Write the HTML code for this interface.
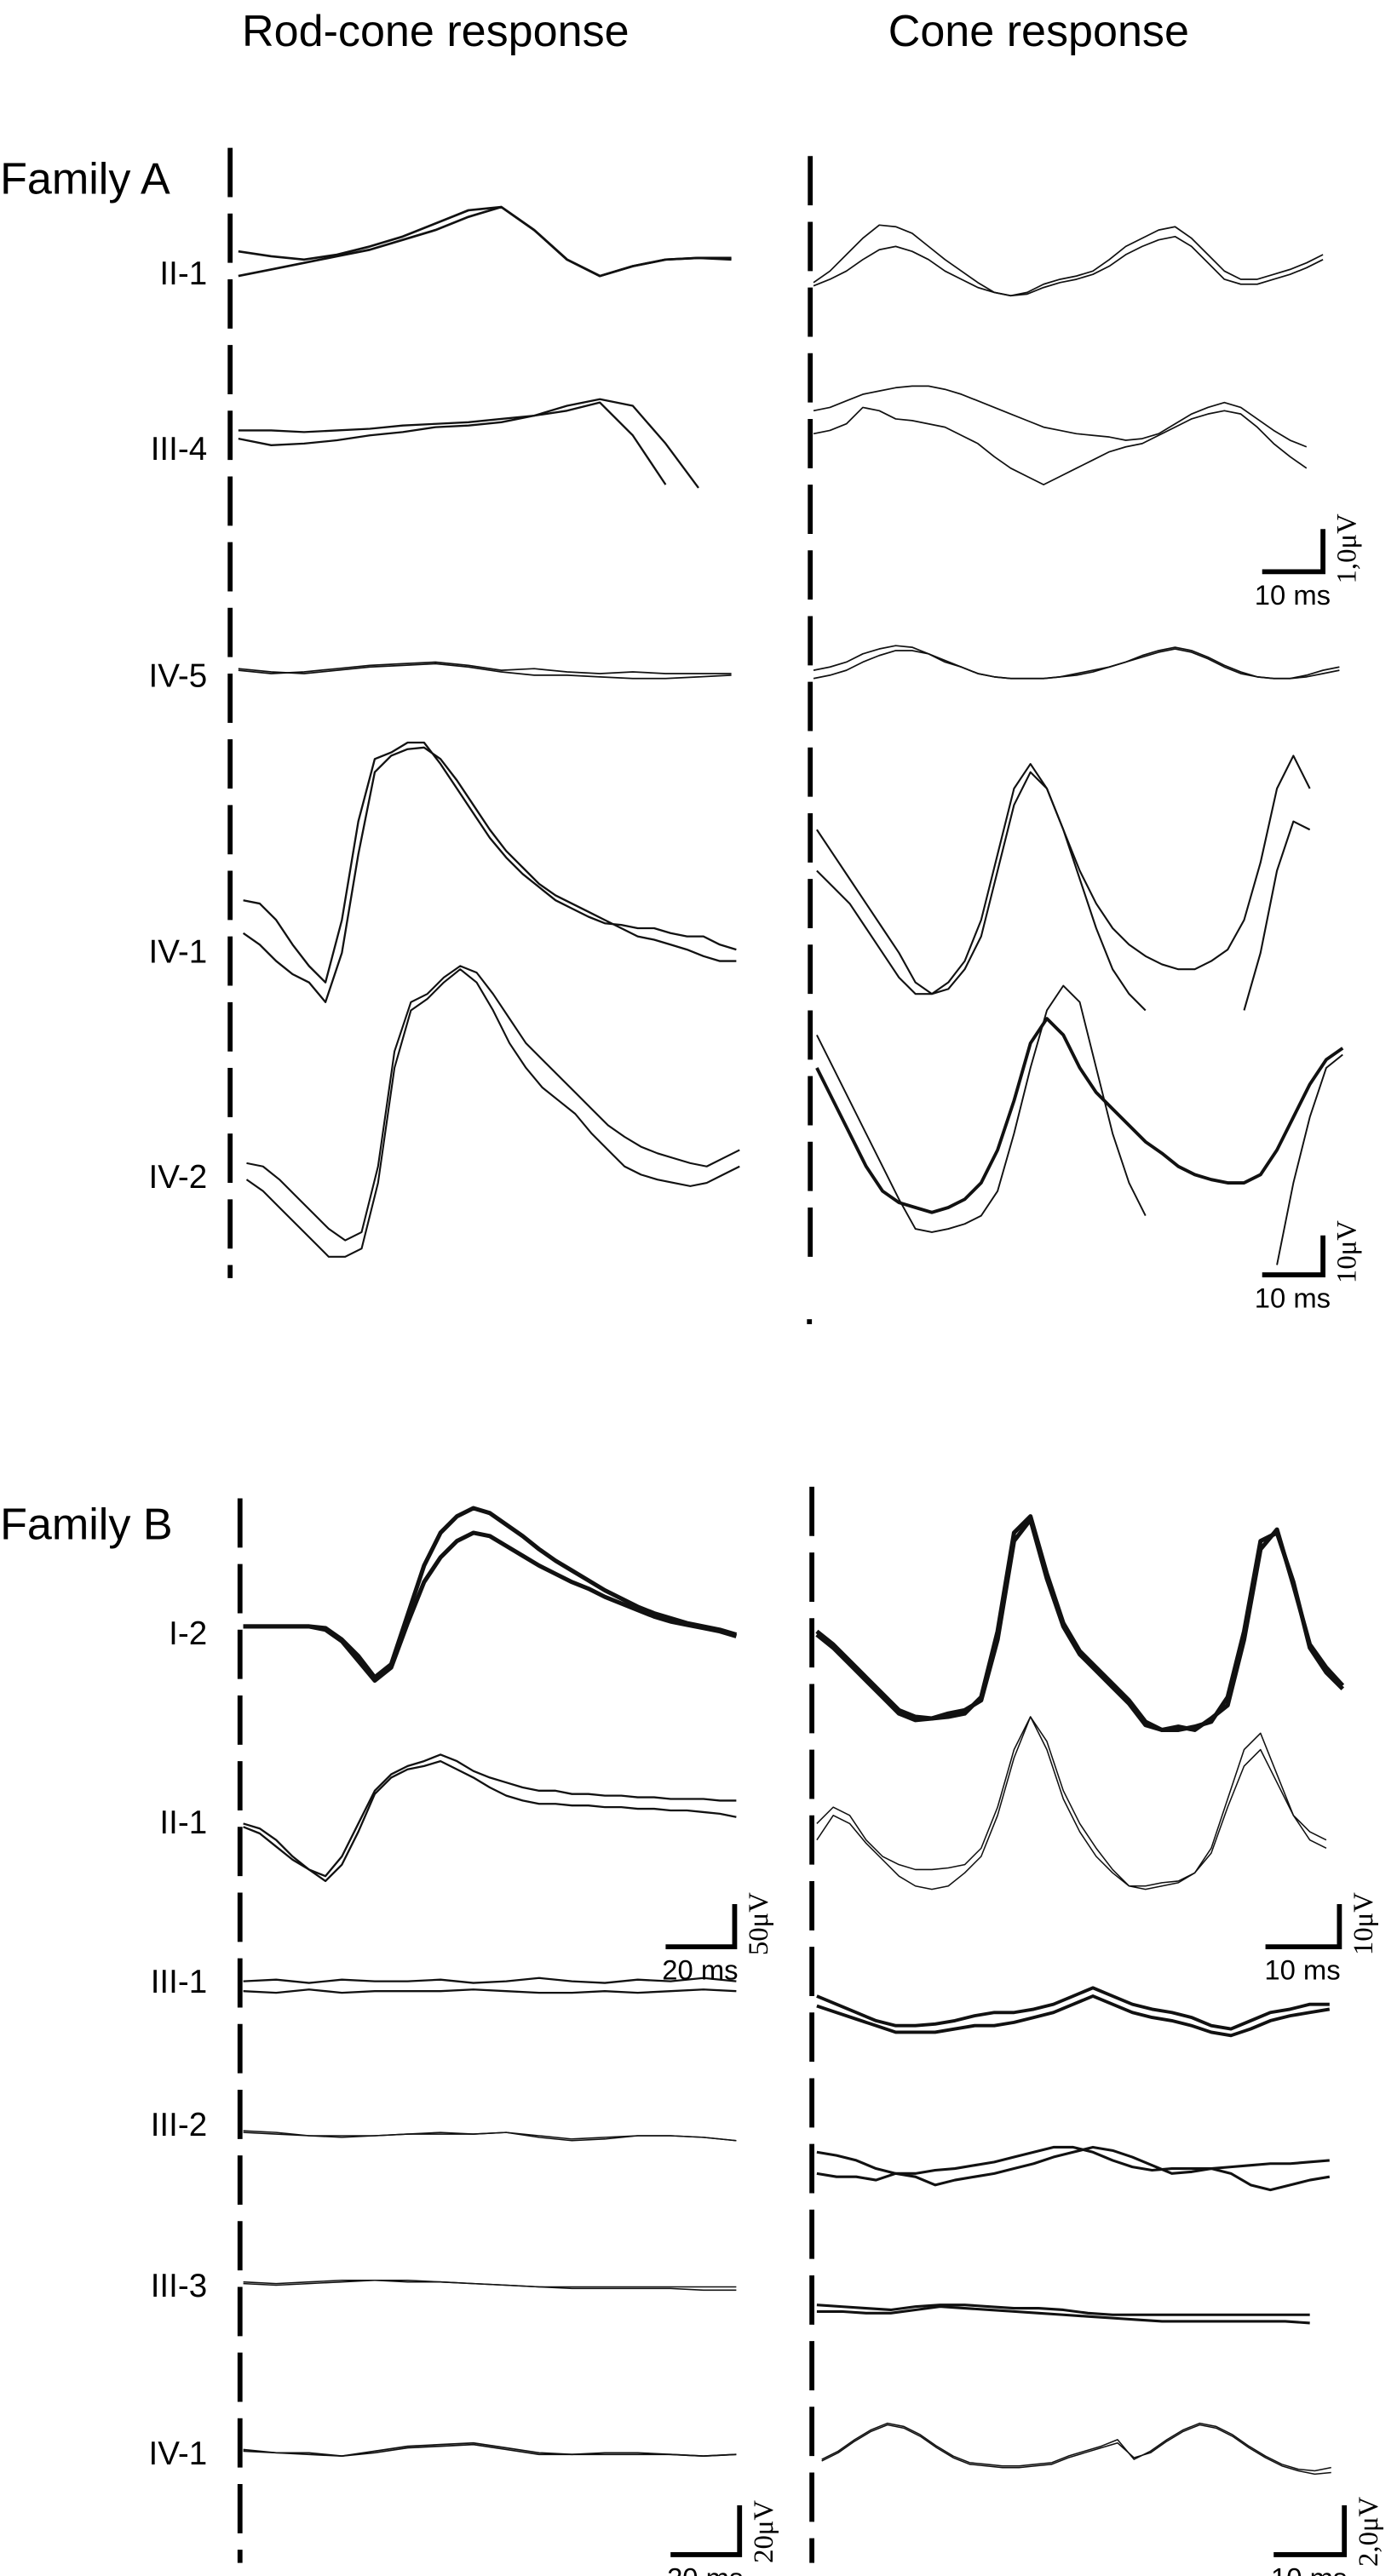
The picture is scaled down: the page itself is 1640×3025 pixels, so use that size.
<!DOCTYPE html>
<html><head><meta charset="utf-8">
<style>
html,body{margin:0;padding:0;background:#fff;}
svg{display:block;}
text{font-family:"Liberation Sans",sans-serif;fill:#000;}
.serif{font-family:"Liberation Serif",serif;}
</style></head>
<body>
<svg id="fig" width="1640" height="3025" viewBox="0 0 850 1568" xmlns="http://www.w3.org/2000/svg">
<text x="265" y="28" font-size="27" text-anchor="middle">Rod-cone response</text>
<text x="632" y="28" font-size="27" text-anchor="middle">Cone response</text>
<text x="0" y="118" font-size="27">Family A</text>
<text x="0" y="937" font-size="27">Family B</text>
<g id="labels"></g>
<g id="dashes"></g>
<g id="traces"></g>
<g id="bars"></g>
</svg>
<script>
// ---- data: amplitudes (arbitrary units, upward positive) ----
const aLeftII1_s1=[7,4,2,5,10,16,24,32,34,20,2,-8,-2,2,3,3];
const aLeftII1_s2=[-8,-4,0,4,8,14,20,28,34,20,2,-8,-2,2,3,2];
const aLeftIII4_s1=[3,3,2,3,4,6,7,8,10,12,15,20,0,-30];
const aLeftIII4_s2=[-2,-6,-5,-3,0,2,5,6,8,12,18,22,18,-5,-32];
const aLeftIV5_s1=[0,-2,-1,1,3,4,5,3,0,1,-1,-2,-1,-2,-2,-2];
const aLeftIV5_s2=[1,-1,-2,0,2,3,4,2,-1,-3,-3,-4,-5,-5,-4,-3];
const aLeftIV1_s1=[12,10,0,-15,-28,-38,0,60,98,102,108,108,95,80,65,50,38,28,20,12,7,2,-2,-3,-5,-5,-8,-10,-10,-15,-18];
const aLeftIV1_s2=[-8,-15,-25,-33,-38,-50,-20,40,90,100,104,105,98,85,70,55,42,32,22,15,10,5,0,-5,-10,-12,-15,-18,-22,-25,-25];
const aLeftIV2_s1=[2,0,-8,-18,-28,-38,-45,-40,0,70,100,105,115,122,118,105,90,75,65,55,45,35,25,18,12,8,5,2,0,5,10];
const aLeftIV2_s2=[-8,-15,-25,-35,-45,-55,-55,-50,-10,60,95,102,112,120,112,95,75,60,48,40,32,20,10,0,-5,-8,-10,-12,-10,-5,0];
const aRightII1_s1=[-2,5,15,25,33,32,28,20,12,5,-2,-8,-10,-8,-3,0,2,5,12,20,25,30,32,25,15,5,0,0,3,6,10,15];
const aRightII1_s2=[-4,0,5,12,18,20,17,12,5,0,-5,-8,-10,-9,-5,-2,0,3,8,15,20,24,26,20,10,0,-3,-3,0,3,7,12];
const aRightIII4_s1=[20,22,26,30,32,34,35,35,33,30,26,22,18,14,10,8,6,5,4,2,3,6,12,18,22,25,22,15,8,2,-2];
const aRightIII4_s2=[6,8,12,22,20,15,14,12,10,5,0,-8,-15,-20,-25,-20,-15,-10,-5,-2,0,5,10,15,18,20,18,10,0,-8,-15];
const aRightIV5_s1=[0,2,5,10,13,15,14,10,5,2,-2,-4,-5,-5,-5,-4,-3,-1,2,5,9,12,14,12,8,3,-1,-4,-5,-5,-3,0,2];
const aRightIV5_s2=[-5,-3,0,5,9,12,12,10,6,2,-2,-4,-5,-5,-5,-4,-2,0,2,5,8,11,13,11,7,2,-2,-4,-5,-5,-4,-2,0];
const aRightIV1_s1=[55,40,25,10,-5,-20,-38,-45,-38,-25,0,40,80,95,80,55,30,10,-5,-15,-22,-27,-30,-30,-25,-18,0,35,80,100,80];
const aRightIV1_s2=[30,20,10,-5,-20,-35,-45,-45,-42,-30,-10,30,70,90,80,55,25,-5,-30,-45,-55,null,null,null,null,null,-55,-20,30,60,55];
const aRightIV2_s1=[80,60,40,20,0,-20,-38,-40,-38,-35,-30,-15,20,60,95,110,100,60,20,-10,-30,null,null,null,null,null,null,null,-60,-10,30,60,68];
const aRightIV2_s2=[60,40,20,0,-15,-22,-25,-28,-25,-20,-10,10,40,75,90,80,60,45,35,25,15,8,0,-5,-8,-10,-10,-5,10,30,50,65,72];
const bLeftI2_s1=[3,3,3,3,3,2,-5,-15,-28,-20,10,40,60,70,75,72,65,58,50,43,37,31,25,20,15,11,8,5,3,1,-2];
const bLeftI2_s2=[3,3,3,3,3,1,-6,-18,-30,-22,5,30,45,55,60,58,52,46,40,35,30,26,21,17,13,9,6,4,2,0,-3];
const bLeftII1_s1=[0,-3,-10,-20,-28,-32,-20,0,20,30,35,38,42,38,32,28,25,22,20,20,18,18,17,17,16,16,15,15,15,14,14];
const bLeftII1_s2=[-2,-6,-14,-22,-28,-35,-25,-5,18,28,33,35,38,33,28,22,17,14,12,12,11,11,10,10,9,9,8,8,7,6,4];
const bLeftIII1_s1=[4,5,3,5,4,4,5,3,4,6,4,3,5,4,6,4];
const bLeftIII1_s2=[-2,-3,-1,-3,-2,-2,-2,-1,-2,-3,-3,-2,-3,-2,-1,-2];
const bLeftIII2_s1=[0,-1,-2,-3,-2,-1,-1,-1,0,-2,-4,-3,-2,-2,-3,-5];
const bLeftIII2_s2=[1,0,-2,-2,-2,-1,0,-1,0,-3,-5,-4,-2,-2,-3,-5];
const bLeftIII3_s1=[1,0,1,2,2,1,1,0,-1,-2,-2,-2,-2,-2,-2,-2];
const bLeftIII3_s2=[0,-1,0,1,2,2,1,0,-1,-2,-3,-3,-3,-3,-4,-4];
const bLeftIV1_s1=[0,-1,-1,-3,0,3,4,5,2,-1,-2,-1,-1,-2,-3,-2];
const bLeftIV1_s2=[1,-1,-2,-3,-1,2,3,4,1,-2,-2,-2,-2,-2,-3,-2];
const bRightI2_s1=[0,-8,-18,-28,-38,-48,-52,-53,-52,-50,-40,0,60,70,35,5,-12,-22,-32,-42,-55,-60,-60,-58,-55,-40,0,55,60,30,-10,-25,-35];
const bRightI2_s2=[-2,-10,-20,-30,-40,-50,-54,-53,-50,-48,-42,-5,55,68,32,3,-14,-24,-34,-44,-57,-60,-58,-60,-53,-45,-5,50,62,28,-8,-22,-33];
const bRightII1_s1=[0,10,5,-10,-20,-25,-28,-28,-27,-25,-15,10,45,65,45,15,-5,-20,-30,-38,-38,-36,-35,-30,-15,15,45,55,30,5,-10,-15];
const bRightII1_s2=[-10,5,0,-12,-22,-32,-38,-40,-38,-30,-20,5,40,65,50,20,0,-15,-28,-38,-40,-38,-36,-30,-18,10,35,45,25,5,-5,-10];
const bRightIII1_s1=[10,5,0,-5,-8,-8,-7,-5,-2,0,0,2,5,10,15,10,5,2,0,-3,-8,-10,-5,0,2,5,5];
const bRightIII1_s2=[4,0,-4,-8,-12,-12,-12,-10,-8,-8,-6,-3,0,5,10,5,0,-3,-5,-8,-12,-14,-10,-5,-2,0,2];
const bRightIII2_s1=[5,3,0,-5,-8,-8,-6,-5,-3,-1,2,5,8,8,5,0,-4,-6,-5,-5,-5,-4,-3,-2,-2,-1,0];
const bRightIII2_s2=[-8,-10,-10,-12,-8,-10,-15,-12,-10,-8,-5,-2,2,5,8,6,2,-3,-8,-7,-5,-8,-15,-18,-15,-12,-10];
const bRightIII3_s1=[2,1,0,-1,1,2,2,1,0,0,-1,-3,-4,-4,-4,-4,-4,-4,-4,-4,-4];
const bRightIII3_s2=[-2,-2,-3,-3,-1,1,0,-1,-2,-3,-4,-5,-6,-7,-8,-8,-8,-8,-8,-8,-9];
const bRightIV1_s1=[0,5,12,18,22,20,15,8,2,-2,-3,-4,-4,-3,-2,2,5,8,12,0,5,12,18,22,20,15,8,2,-3,-6,-7,-5];
const bRightIV1_s2=[-1,4,11,17,21,19,14,7,1,-3,-4,-5,-5,-4,-3,1,4,7,10,1,4,11,17,21,19,14,7,1,-4,-7,-9,-8];
const rowLabels=["II-1","III-4","IV-5","IV-1","IV-2","I-2","II-1","III-1","III-2","III-3","IV-1"];
const rowLabelY=[173,280,418,586,723,1001,1116,1213,1300,1398,1500];

// ---- layout (positions, not data) ----
const rows=[
 {n:'a-left-ii-1',base:160,x0:145,dx:20,w:1.4,s:[aLeftII1_s1,aLeftII1_s2]},
 {n:'a-left-iii-4',base:265,x0:145,dx:20,w:1.2,s:[aLeftIII4_s1,aLeftIII4_s2]},
 {n:'a-left-iv-5',base:408,x0:145,dx:20,w:0.9,s:[aLeftIV5_s1,aLeftIV5_s2]},
 {n:'a-left-iv-1',base:560,x0:148,dx:10,w:1.2,s:[aLeftIV1_s1,aLeftIV1_s2]},
 {n:'a-left-iv-2',base:710,x0:150,dx:10,w:1.1,s:[aLeftIV2_s1,aLeftIV2_s2]},
 {n:'a-right-ii-1',base:170,x0:495,dx:10,w:0.9,s:[aRightII1_s1,aRightII1_s2]},
 {n:'a-right-iii-4',base:270,x0:495,dx:10,w:0.9,s:[aRightIII4_s1,aRightIII4_s2]},
 {n:'a-right-iv-5',base:408,x0:495,dx:10,w:0.9,s:[aRightIV5_s1,aRightIV5_s2]},
 {n:'a-right-iv-1',base:560,x0:497,dx:10,w:1.1,s:[aRightIV1_s1,aRightIV1_s2]},
 {n:'a-right-iv-2',base:710,x0:497,dx:10,w:[1,2],s:[aRightIV2_s1,aRightIV2_s2]},
 {n:'b-left-i-2',base:993,x0:148,dx:10,w:2.6,s:[bLeftI2_s1,bLeftI2_s2]},
 {n:'b-left-ii-1',base:1110,x0:148,dx:10,w:1.2,s:[bLeftII1_s1,bLeftII1_s2]},
 {n:'b-left-iii-1',base:1210,x0:148,dx:20,w:1.2,s:[bLeftIII1_s1,bLeftIII1_s2]},
 {n:'b-left-iii-2',base:1298,x0:148,dx:20,w:0.8,s:[bLeftIII2_s1,bLeftIII2_s2]},
 {n:'b-left-iii-3',base:1390,x0:148,dx:20,w:0.8,s:[bLeftIII3_s1,bLeftIII3_s2]},
 {n:'b-left-iv-1',base:1492,x0:148,dx:20,w:0.9,s:[bLeftIV1_s1,bLeftIV1_s2]},
 {n:'b-right-i-2',base:993,x0:497,dx:10,w:2.6,s:[bRightI2_s1,bRightI2_s2]},
 {n:'b-right-ii-1',base:1110,x0:497,dx:10,w:0.8,s:[bRightII1_s1,bRightII1_s2]},
 {n:'b-right-iii-1',base:1225,x0:497,dx:12,w:2,s:[bRightIII1_s1,bRightIII1_s2]},
 {n:'b-right-iii-2',base:1315,x0:497,dx:12,w:1.6,s:[bRightIII2_s1,bRightIII2_s2]},
 {n:'b-right-iii-3',base:1405,x0:497,dx:15,w:1.6,s:[bRightIII3_s1,bRightIII3_s2]},
 {n:'b-right-iv-1',base:1497,x0:500,dx:10,w:0.8,s:[bRightIV1_s1,bRightIV1_s2]}
];
const NS='http://www.w3.org/2000/svg';
function mk(tag,attrs,parent){const e=document.createElementNS(NS,tag);for(const k in attrs)e.setAttribute(k,attrs[k]);parent.appendChild(e);return e;}
function xAt(r,i){return r.x0+i*r.dx;}
function yAt(r,v){return r.base-v;}
const gT=document.getElementById('traces');
rows.forEach(r=>{
  r.s.forEach((arr,k)=>{
    let d='',pen=false;
    arr.forEach((v,i)=>{
      if(v===null){pen=false;return;}
      d+=(pen?'L':'M')+xAt(r,i).toFixed(1)+' '+yAt(r,v).toFixed(1)+' ';pen=true;
    });
    const w=Array.isArray(r.w)?r.w[k]:r.w;
    const p=mk('path',{d:d,fill:'none',stroke:'#111','stroke-width':w,'stroke-linejoin':'round'},gT);
    
    
  });
});
const gL=document.getElementById('labels');
rowLabels.forEach((t,i)=>{
  const e=mk('text',{x:126,y:rowLabelY[i],'font-size':20,'text-anchor':'end'},gL);
  e.textContent=t;
  
  
});
const dashLines=[[140,90,778],[493,95,772],[146,912,1560],[494,905,1560]];
const gD=document.getElementById('dashes');
dashLines.forEach((l,i)=>{
  const e=mk('line',{x1:l[0],y1:l[1],x2:l[0],y2:l[2],stroke:'#000','stroke-width':3,'stroke-dasharray':'30 10'},gD);
  
  
});
mk('rect',{x:491,y:803,width:3,height:3,fill:'#000'},gD);
const bars=[[805,348,37,26,'10 ms','1,0μV'],[805,776,37,24,'10 ms','10μV'],[447,1185,42,26,'20 ms','50μV'],[815,1185,45,26,'10 ms','10μV'],[450,1555,42,30,'20 ms','20μV'],[818,1555,43,30,'10 ms','2,0μV']];
const gB=document.getElementById('bars');
bars.forEach(b=>{
  const p=mk('path',{d:`M${b[0]-b[2]} ${b[1]} H${b[0]} V${b[1]-b[3]}`,fill:'none',stroke:'#000','stroke-width':3},gB);
  
  
  const t=mk('text',{x:b[0]-b[2]/2,y:b[1]+20,'font-size':17,'text-anchor':'middle'},gB);
  t.textContent=b[4];
  
  
  const u=mk('text',{x:0,y:0,'font-size':17,'text-anchor':'middle',class:'serif',transform:`translate(${b[0]+20} ${b[1]-14}) rotate(-90)`},gB);
  u.textContent=b[5];
  
  
});
</script>
</body></html>
